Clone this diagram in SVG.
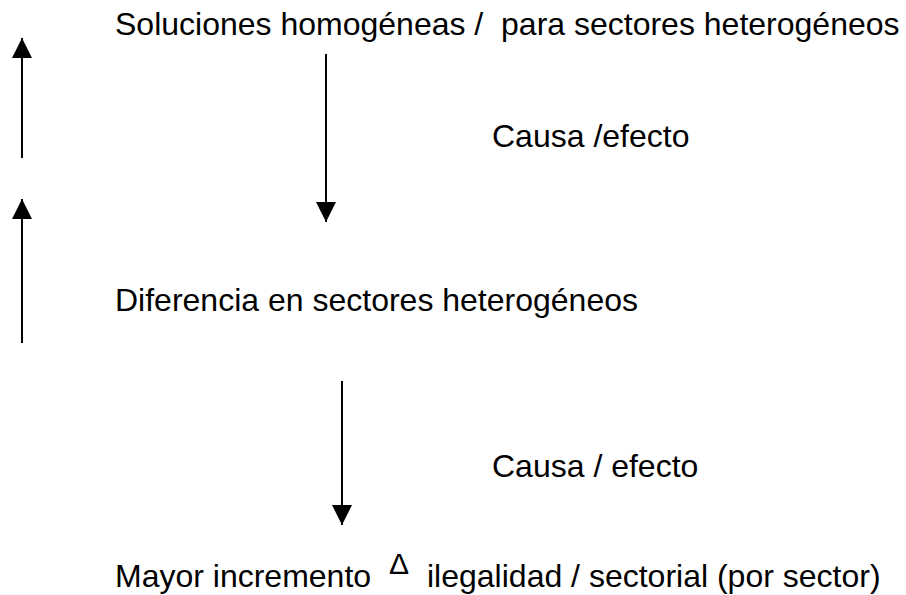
<svg xmlns="http://www.w3.org/2000/svg" width="906" height="595" viewBox="0 0 906 595">
<style>
.t{font-family:"Liberation Sans",Arial,sans-serif;font-size:32px;fill:#000}
.d{font-family:"Liberation Sans",Arial,sans-serif;font-size:30px;fill:#000}
.c line{stroke:#000;stroke-width:2;marker-end:url(#ah)}
</style>
<defs>
<marker id="ah" markerUnits="userSpaceOnUse" markerWidth="20" markerHeight="20" refX="20" refY="10" orient="auto" viewBox="0 0 20 20">
<path d="M0,0 L20,10 L0,20 Z" fill="#000"/>
</marker>
</defs>
<g id="n1"><text class="t" x="115" y="35" xml:space="preserve">Soluciones homogéneas /  para sectores heterogéneos</text></g>
<g id="l1"><text class="t" x="492" y="147">Causa /efecto</text></g>
<g id="n2"><text class="t" x="115" y="311">Diferencia en sectores heterogéneos</text></g>
<g id="l2"><text class="t" x="492" y="477">Causa / efecto</text></g>
<g id="n3"><text class="t" x="115" y="587">Mayor incremento</text><text class="d" x="389" y="574">Δ</text><text class="t" x="427" y="587">ilegalidad / sectorial (por sector)</text></g>
<g class="c" id="connectors">
<line x1="22" y1="158" x2="22" y2="38"/>
<line x1="22" y1="343" x2="22" y2="199"/>
<line x1="326" y1="54" x2="326" y2="222"/>
<line x1="342" y1="381" x2="342" y2="525"/>
</g>
</svg>
